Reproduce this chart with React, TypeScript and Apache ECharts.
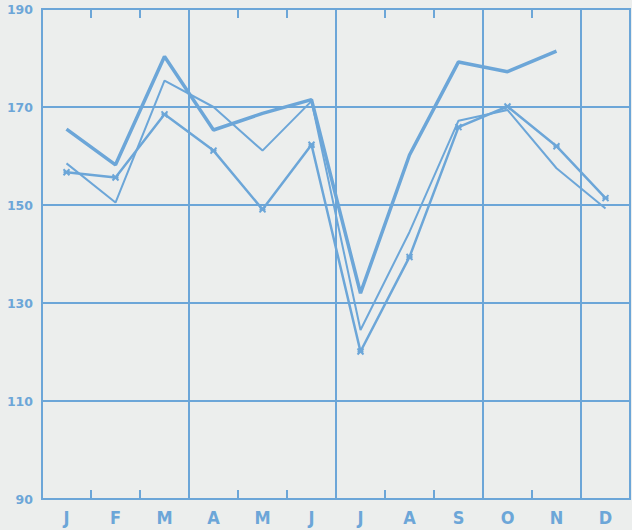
import React, { useEffect, useRef } from "react";
import * as echarts from "echarts";

const months = ["J", "F", "M", "A", "M", "J", "J", "A", "S", "O", "N", "D"];
const yLabelTicks = [90, 110, 130, 150, 170, 190];
const gridValues = [110, 130, 150, 170];
const thickSeries = [165.5, 158.2, 180.3, 165.3, 168.7, 171.5, 132, 160.2, 179.2, 177.2, 181.4, null];
const thinSeries = [158.5, 150.5, 175.4, 170, 161.1, 171.2, 124.5, 144.5, 167.2, 169.4, 157.5, 149.3];
const markedSeries = [156.7, 155.6, 168.5, 161.1, 149.1, 162.3, 120.1, 139.4, 165.9, 170.1, 162, 151.4];

const BLUE = "#6ca6d8";
const BG = "#eceeed";

export default function App() {
  const ref = useRef<HTMLDivElement>(null);
  useEffect(() => {
    document.body.style.margin = "0";
    document.body.style.background = BG;
    const chart = echarts.init(ref.current!, null, { renderer: "svg" });
    chart.setOption({
      animation: false,
      backgroundColor: BG,
      grid: {
        left: 42,
        right: 2,
        top: 9,
        bottom: 31,
        show: true,
        borderColor: BLUE,
        borderWidth: 2,
        backgroundColor: "transparent",
      },
      xAxis: [
        {
          type: "category",
          data: months,
          boundaryGap: true,
          position: "bottom",
          axisLine: { show: true, lineStyle: { color: BLUE, width: 2 } },
          axisTick: { show: true, inside: true, length: 9, interval: 0, lineStyle: { color: BLUE, width: 2 } },
          axisLabel: {
            color: BLUE,
            fontFamily: "'DejaVu Sans Condensed', 'DejaVu Sans', sans-serif",
            fontWeight: "bold",
            fontSize: 18,
            margin: 9,
            interval: 0,
          },
          splitLine: { show: true, interval: 2, lineStyle: { color: BLUE, width: 2 } },
        },
        {
          type: "category",
          data: months,
          boundaryGap: true,
          position: "top",
          axisLine: { show: true, lineStyle: { color: BLUE, width: 2 } },
          axisTick: { show: true, inside: true, length: 9, interval: 0, lineStyle: { color: BLUE, width: 2 } },
          axisLabel: { show: false },
          splitLine: { show: false },
        },
      ],
      yAxis: {
        type: "value",
        min: 90,
        max: 190,
        interval: 10,
        axisLine: { show: true, lineStyle: { color: BLUE, width: 2 } },
        axisTick: { show: false },
        splitLine: { show: false },
        axisLabel: {
          color: BLUE,
          fontFamily: "'DejaVu Sans', sans-serif",
          fontWeight: "bold",
          fontSize: 12.5,
          margin: 9,
          formatter: (v: number) => (yLabelTicks.includes(v) ? String(v) : ""),
        },
      },
      series: [
        {
          type: "line",
          data: thickSeries,
          showSymbol: false,
          symbol: "none",
          lineStyle: { color: BLUE, width: 3.5 },
          z: 3,
          markLine: {
            silent: true,
            symbol: "none",
            label: { show: false },
            lineStyle: { color: BLUE, width: 2, type: "solid" },
            data: gridValues.map((v) => ({ yAxis: v })),
            z: 1,
          },
        },
        {
          type: "line",
          data: thinSeries,
          showSymbol: false,
          symbol: "none",
          lineStyle: { color: BLUE, width: 2 },
          z: 3,
        },
        {
          type: "line",
          data: markedSeries,
          symbol: "path://M0,0L10,10M10,0L0,10M0,5L10,5",
          symbolSize: 6,
          itemStyle: { color: BLUE, borderColor: BLUE, borderWidth: 2 },
          lineStyle: { color: BLUE, width: 2.5 },
          z: 3,
        },
      ],
    });
    return () => chart.dispose();
  }, []);
  return <div ref={ref} style={{ width: 632, height: 530 }} />;
}
